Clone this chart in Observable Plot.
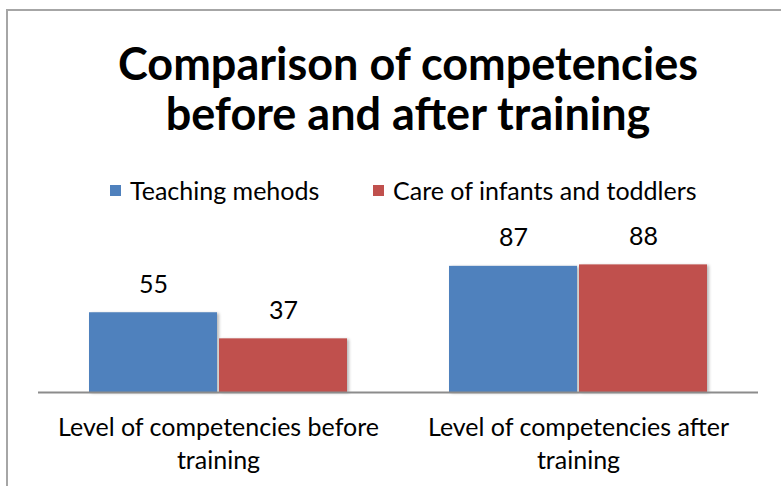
<!DOCTYPE html>
<html>
<head>
<meta charset="utf-8">
<script src="https://cdn.jsdelivr.net/npm/d3@7"></script>
<script src="https://cdn.jsdelivr.net/npm/@observablehq/plot@0.6"></script>
<style>
  html, body { margin: 0; padding: 0; background: #fff; }
  #wrap { position: relative; width: 781px; height: 486px; overflow: hidden; font-family: Lato, "Open Sans", sans-serif; color: #000; }
  #frame { position: absolute; left: 6px; top: 9px; width: 800px; height: 500px; border-left: 2px solid #a6a6a6; border-top: 2px solid #a6a6a6; }
  #title { position: absolute; left: 0; top: 38px; width: 816px; text-align: center; font-weight: 700; font-size: 45px; line-height: 50px; white-space: pre-line; }
  #legend { position: absolute; top: 175px; left: 0; width: 781px; height: 30px; }
  .item { position: absolute; display: flex; align-items: center; height: 30px; font-size: 25px; white-space: nowrap; }
  .sw { width: 11px; height: 11px; margin-right: 9px; }
  #chart { position: absolute; left: 0; top: 0; }
</style>
</head>
<body>
<div id="wrap">
  <div id="frame"></div>
  <div id="title"></div>
  <div id="legend"></div>
  <div id="chart"></div>
</div>
<script>
const titleLines = ["Comparison of competencies", "before and after training"];
const categories = ["Level of competencies before training", "Level of competencies after training"];
const series = ["Teaching mehods", "Care of infants and toddlers"];
const teachingMethods = [55, 87];
const careOfInfants = [37, 88];
const colors = ["#4F81BD", "#C0504D"];

document.getElementById("title").textContent = titleLines.join("\n");

const data = [];
categories.forEach((c, i) => {
  data.push({category: c, series: series[0], value: teachingMethods[i]});
  data.push({category: c, series: series[1], value: careOfInfants[i]});
});

// legend
const legend = document.getElementById("legend");
const legendX = [110, 373];
series.forEach((s, i) => {
  const item = document.createElement("div");
  item.className = "item";
  item.style.left = legendX[i] + "px";
  const sw = document.createElement("div");
  sw.className = "sw";
  sw.style.background = colors[i];
  const t = document.createElement("span");
  t.textContent = s;
  item.appendChild(sw);
  item.appendChild(t);
  legend.appendChild(item);
});

const chart = Plot.plot({
  width: 781,
  height: 486,
  marginTop: 247,
  marginBottom: 94,
  marginLeft: 38,
  marginRight: 23,
  style: {fontFamily: "Lato, 'Open Sans', sans-serif", fontSize: "25px", color: "#000", background: "transparent", overflow: "visible"},
  fx: {domain: categories, padding: 0, label: null},
  x: {domain: series, paddingInner: 0, paddingOuter: 0.3846, axis: null},
  y: {domain: [0, 100], axis: null},
  color: {domain: series, range: colors},
  marks: [
    Plot.barY(data, {fx: "category", x: "series", y: "value", fill: "series", insetLeft: 1, insetRight: 1,
      imageFilter: "drop-shadow(2px 1px 1.5px rgba(0,0,0,0.28))"}),
    Plot.ruleY([0], {stroke: "#8c8c8c", strokeWidth: 2}),
    Plot.text(data, {fx: "category", x: "series", y: "value", text: d => String(d.value), dy: -28, fontSize: 25, fill: "#000"}),
    Plot.axisFx({anchor: "bottom", tickSize: 0, tickPadding: 20, fontSize: 25, lineHeight: 1.32, label: null,
      tickFormat: d => d.replace(/ training$/, "\ntraining")})
  ]
});
document.getElementById("chart").appendChild(chart);
</script>
</body>
</html>
